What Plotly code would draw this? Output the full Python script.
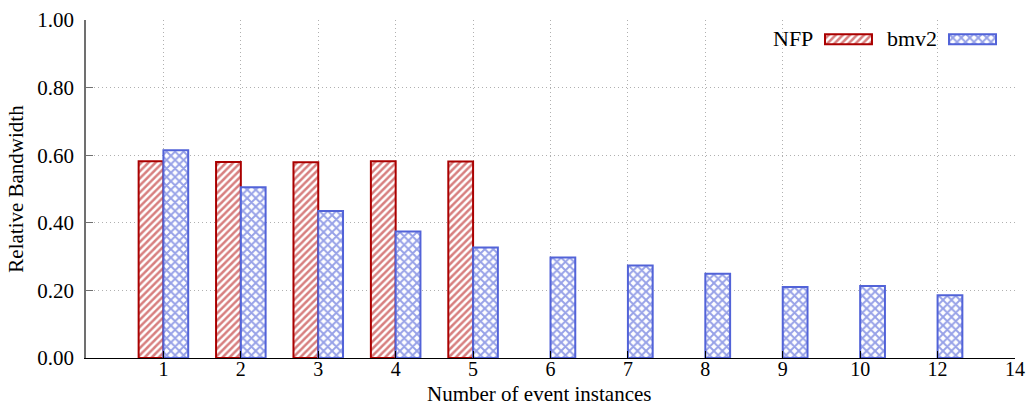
import plotly.graph_objects as go

# Number of event instances (category labels along x)
instances = ["1", "2", "3", "4", "5", "6", "7", "8", "9", "10", "12", "14"]

# Relative bandwidth per configuration
nfp = [0.582, 0.580, 0.579, 0.582, 0.581, None, None, None, None, None, None, None]
bmv2 = [0.615, 0.505, 0.435, 0.374, 0.327, 0.297, 0.274, 0.249, 0.210, 0.213, 0.186, None]

y_ticks = [0.0, 0.2, 0.4, 0.6, 0.8, 1.0]

NFP_EDGE = "#aa0000"
NFP_HATCH = "#b00000"
BMV_EDGE = "#5263d8"
BMV_HATCH = "#3044d0"
FONT = "Liberation Serif"
GRID = "#b0b0b0"
DOTS = "1px,3px"

nfp_marker = dict(
    color="white",
    line=dict(color=NFP_EDGE, width=2),
    pattern=dict(shape="/", fgcolor=NFP_HATCH, bgcolor="white", size=5, solidity=0.5),
)
bmv_marker = dict(
    color="white",
    line=dict(color=BMV_EDGE, width=2),
    pattern=dict(shape="x", fgcolor=BMV_HATCH, bgcolor="white", size=6, solidity=0.55),
)

fig = go.Figure()
fig.add_trace(go.Bar(x=instances, y=nfp, name="NFP", marker=nfp_marker,
                     offset=-0.32, width=0.32, showlegend=False))
fig.add_trace(go.Bar(x=instances, y=bmv2, name="bmv2", marker=bmv_marker,
                     offset=0.0, width=0.32, showlegend=False))

# Key: gnuplot-style text followed by a wide hatched swatch
key_items = [("NFP", nfp_marker, "x2", "y2", [0.7904, 0.8511], 0.785),
             ("bmv2", bmv_marker, "x3", "y3", [0.9239, 0.9846], 0.918)]
for i, (label, marker, xa, ya, dom, text_x) in enumerate(key_items):
    fig.add_trace(go.Bar(x=[0], y=[1], marker=marker, offset=-0.5, width=1,
                         xaxis=xa, yaxis=ya, showlegend=False, hoverinfo="skip"))
    n = i + 2
    fig.layout[f"xaxis{n}"] = dict(domain=dom, range=[-0.6, 0.6], visible=False,
                                   anchor=f"y{n}", fixedrange=True)
    fig.layout[f"yaxis{n}"] = dict(domain=[0.9133, 0.9725], range=[-0.5, 1.5], visible=False,
                                   anchor=f"x{n}", fixedrange=True)
    fig.add_annotation(x=text_x, y=0.944, xref="paper", yref="paper", text=label,
                       showarrow=False, xanchor="right", yanchor="middle",
                       font=dict(family=FONT, size=22, color="black"))

# x-axis title, set slightly left of the plot centre
fig.add_annotation(x=0.488, y=-0.1065, xref="paper", yref="paper",
                   text="Number of event instances", showarrow=False,
                   xanchor="center", yanchor="middle", borderpad=0,
                   font=dict(family=FONT, size=21, color="black"))

fig.update_layout(
    width=1027, height=405,
    margin=dict(l=86, r=12, t=20, b=47),
    paper_bgcolor="white", plot_bgcolor="white",
    font=dict(family=FONT, size=21, color="black"),
    showlegend=False,
    xaxis=dict(
        type="category", categoryorder="array", categoryarray=instances,
        range=[-1, len(instances) - 1],
        showgrid=True, gridcolor=GRID, griddash=DOTS, gridwidth=1,
        showline=True, linecolor="black", linewidth=1,
        ticks="inside", ticklen=7, tickcolor="black",
        tickfont=dict(size=20),
        ticklabelstandoff=-7,
        zeroline=False, fixedrange=True, automargin=False,
    ),
    yaxis=dict(
        range=[0, 1.0], tickvals=y_ticks, ticktext=[f"{v:.2f}" for v in y_ticks],
        showgrid=True, gridcolor=GRID, griddash=DOTS, gridwidth=1,
        showline=True, linecolor="#707070", linewidth=1.5,
        ticks="inside", ticklen=7, tickcolor="#707070",
        ticklabelstandoff=6,
        title=dict(text="Relative Bandwidth", font=dict(size=21), standoff=8),
        zeroline=False, fixedrange=True, automargin=False,
    ),
)

fig.write_html("out.html")
